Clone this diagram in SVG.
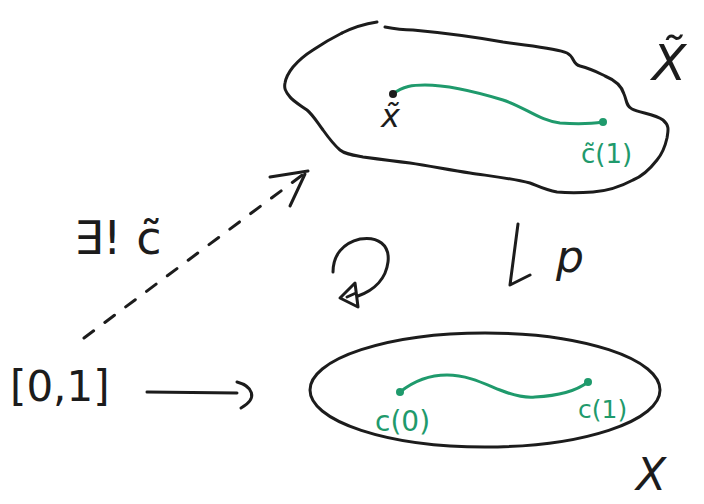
<svg xmlns="http://www.w3.org/2000/svg" width="704" height="504" viewBox="0 0 704 504">
<style>
.ink{fill:none;stroke:#1c1c1c;stroke-width:3;stroke-linecap:round;stroke-linejoin:round}
.path{fill:none;stroke:#1f9a6c;stroke-width:3;stroke-linecap:round}
.dot{fill:#1f9a6c}
.t{font-family:"DejaVu Sans","Liberation Sans",sans-serif;fill:#1c1c1c}
.g{font-family:"DejaVu Sans","Liberation Sans",sans-serif;fill:#1f9a6c}
</style>
<rect width="704" height="504" fill="#ffffff"/>
<g id="cover-space">
  <path class="ink" d="M342,33 C352,28 364,24 377,22"/>
  <path class="ink" d="M385,27 C395,29 405,30 413,30 C445,33 475,37 503,42 C530,46 556,48 567,53 C575,57 572,64 580,66 C592,69 597,72 605,76 C617,81 622,87 624,94 C627,101 626,106 632,109 C640,113 655,114 663,120 C670,126 668,131 667,138 C665,147 662,154 657,160 C650,169 643,176 633,180 C620,187 607,191 593,192 C580,193 567,193 557,192 C545,190 538,186 530,183 C510,178 490,176 470,173 C450,170 430,166 410,163 C393,161 378,159 363,157 C352,155 345,154 340,150 C333,144 328,137 323,130 C317,122 313,115 307,110 C300,105 293,101 290,97 C285,91 284,88 285,83 C286,77 289,72 293,67 C299,60 305,55 313,50 C322,44 332,38 342,33"/>
  <path class="path" d="M393,94 C403,86 413,85 425,85 C445,85 470,90 503,100 C525,107 540,121 560,123 C575,124 590,124 603,122"/>
  <circle cx="393" cy="94" r="4" fill="#1c1c1c"/>
  <circle class="dot" cx="603" cy="122" r="4"/>
  <text class="t" x="381" y="127" font-size="32" font-style="italic">x̃</text>
  <text class="g" x="581" y="163" font-size="26">c̃(1)</text>
  <text class="t" x="652" y="80" font-size="50" font-style="italic">X̃</text>
</g>
<g id="base-space">
  <ellipse class="ink" cx="485" cy="390" rx="175" ry="57"/>
  <path class="path" d="M400,392 C415,380 432,375 447,375 C468,375 485,384 500,390 C515,396 525,398 535,397 C555,396 575,392 588,382"/>
  <circle class="dot" cx="400" cy="392" r="4"/>
  <circle class="dot" cx="588" cy="382" r="4"/>
  <text class="g" x="375" y="431" font-size="28">c(0)</text>
  <text class="g" x="578" y="418" font-size="25">c(1)</text>
  <text class="t" x="636" y="490" font-size="44" font-style="italic">X</text>
</g>
<g id="interval">
  <text class="t" x="10" y="401" font-size="42">[0,1]</text>
</g>
<g id="lift-label">
  <text class="t" x="74" y="254" font-size="46">∃! c̃</text>
</g>
<g id="connectors">
  <path class="ink" d="M84,338 L305,173" stroke-dasharray="12,14"/>
  <path class="ink" d="M270,177 L308,171 M290,206 L305,174"/>
  <path class="ink" d="M147,392 L237,393"/>
  <path class="ink" d="M237,382 C252,386 259,398 241,408"/>
  <path class="ink" d="M518,224 L510,285 L530,275"/>
  <text class="t" x="556" y="272" font-size="44" font-style="italic">p</text>
  <path class="ink" d="M333,272 C333,255 343,243 360,239 C378,236 390,245 388,262 C386,278 375,290 358,296"/>
  <path class="ink" d="M340,298 L355,283 L358,307 Z M347,297 L356,293"/>
</g>
</svg>
